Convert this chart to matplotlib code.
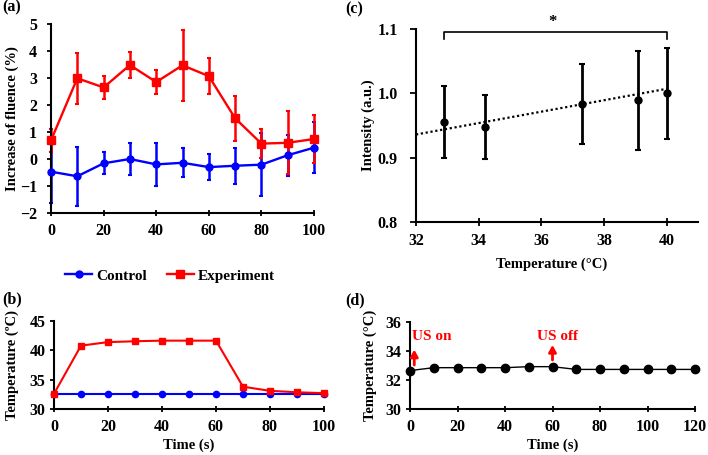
import matplotlib
matplotlib.use("Agg")
import matplotlib.pyplot as plt
import numpy as np
from matplotlib.ticker import FormatStrFormatter

plt.rcParams['font.family'] = ['Liberation Serif', 'DejaVu Serif']
plt.rcParams['font.weight'] = 'bold'
plt.rcParams['axes.labelweight'] = 'bold'

# ---------------- data ----------------
# (a) increase of fluence
time_a = [0, 10, 20, 30, 40, 50, 60, 70, 80, 90, 100]
ctrl_a = [-0.47, -0.64, -0.16, 0.0, -0.2, -0.14, -0.3, -0.25, -0.21, 0.14, 0.42]
ctrl_a_err = [1.17, 1.1, 0.41, 0.59, 0.8, 0.53, 0.48, 0.67, 1.17, 0.76, 0.95]
exp_a = [0.69, 2.99, 2.65, 3.48, 2.85, 3.47, 3.07, 1.51, 0.57, 0.6, 0.74]
exp_a_err = [0.43, 0.95, 0.43, 0.49, 0.43, 1.31, 0.67, 0.84, 0.53, 1.16, 0.9]

# (b) temperature
time_b = [0, 10, 20, 30, 40, 50, 60, 70, 80, 90, 100]
ctrl_b = [32.55] * 11
exp_b = [32.6, 40.8, 41.4, 41.55, 41.65, 41.65, 41.65, 33.8, 33.1, 32.85, 32.7]

# (c) intensity vs temperature
temp_c = [32.9, 34.2, 37.3, 39.1, 40.0]
int_c = [0.956, 0.948, 0.983, 0.989, 1.0]
int_c_err = [0.056, 0.05, 0.062, 0.077, 0.071]
trend_x = [32, 40]
trend_y = [0.936, 1.007]

# (d) temperature control
time_d = [0, 10, 20, 30, 40, 50, 60, 70, 80, 90, 100, 110, 120]
temp_d = [32.65, 32.85, 32.85, 32.85, 32.85, 32.92, 32.92, 32.73, 32.73, 32.73, 32.73, 32.73, 32.73]

W, H = 708, 455
fig = plt.figure(figsize=(W / 100, H / 100), dpi=100)


def ax_px(l, r, t, b):
    return fig.add_axes([l / W, 1 - b / H, (r - l) / W, (b - t) / H])


def style(ax, ypad):
    for s in ['top', 'right']:
        ax.spines[s].set_visible(False)
    for s in ['left', 'bottom']:
        ax.spines[s].set_linewidth(1.5)
    ax.tick_params(axis='x', direction='inout', length=5, width=1.3, labelsize=11.5, pad=5)
    ax.tick_params(axis='y', direction='out', length=3, width=1.3, labelsize=11.5, pad=ypad)
    for lab in ax.get_xticklabels() + ax.get_yticklabels():
        lab.set_fontweight('bold')


BLUE = '#0000ff'
RED = '#ff0000'

# ---------------- (a) ----------------
axa = ax_px(51, 314, 24, 213)
axa.errorbar(time_a, ctrl_a, yerr=ctrl_a_err, fmt='none', ecolor=BLUE, elinewidth=1.8,
             capsize=1.5, capthick=1.5, zorder=1, clip_on=False)
axa.errorbar(time_a, exp_a, yerr=exp_a_err, fmt='none', ecolor=RED, elinewidth=1.8,
             capsize=1.5, capthick=1.5, zorder=2, clip_on=False)
l_exp, = axa.plot(time_a, exp_a, color=RED, marker='s', ms=5.5, lw=1.7, zorder=3, clip_on=False,
                  label='Experiment')
l_ctrl, = axa.plot(time_a, ctrl_a, color=BLUE, marker='o', ms=5, lw=1.7, zorder=4, clip_on=False,
                   label='Control')
axa.set_xlim(0, 100)
axa.set_ylim(-2, 5)
axa.set_xticks([0, 20, 40, 60, 80, 100])
axa.set_yticks(range(-2, 6))
style(axa, 7)
axa.set_ylabel('Increase of fluence (%)', fontsize=10.5)
axa.yaxis.set_label_coords((19 - 51) / 263, 0.5)

fig.legend(handles=[l_ctrl, l_exp], labels=['Control', 'Experiment'], loc='center',
           bbox_to_anchor=(170 / W, 1 - 276 / H), ncol=2, frameon=False,
           prop={'family': 'Liberation Serif', 'weight': 'bold', 'size': 11},
           handlelength=1.8, columnspacing=1.3, handletextpad=0.25)

# ---------------- (b) ----------------
axb = ax_px(54, 324, 321, 409)
axb.plot(time_b, ctrl_b, color=BLUE, marker='o', ms=4.5, lw=1.5, zorder=3, clip_on=False)
axb.plot(time_b, exp_b, color=RED, marker='s', ms=5, lw=1.5, zorder=4, clip_on=False)
axb.set_xlim(0, 100)
axb.set_ylim(30, 45)
axb.set_xticks([0, 20, 40, 60, 80, 100])
axb.set_yticks([30, 35, 40, 45])
style(axb, 3)
axb.set_ylabel('Temperature (\u00baC)', fontsize=10.5)
axb.yaxis.set_label_coords((19 - 54) / 270, 0.5)
axb.set_xlabel('Time (s)', fontsize=10.5)
axb.xaxis.set_label_coords(0.5, -(439 - 409) / 88)

# ---------------- (c) ----------------
axc = ax_px(416, 698, 29, 222)
axc.plot(trend_x, trend_y, color='black', ls=(0, (1, 1.2)), lw=1.6, zorder=2)
axc.errorbar(temp_c, int_c, yerr=int_c_err, fmt='o', color='black', ms=5, elinewidth=2,
             capsize=2, capthick=1.5, zorder=3)
axc.set_xlim(32, 41)
axc.set_ylim(0.8, 1.1)
axc.set_xticks([32, 34, 36, 38, 40])
axc.set_yticks([0.8, 0.9, 1.0, 1.1])
axc.yaxis.set_major_formatter(FormatStrFormatter('%.1f'))
style(axc, 9)
axc.tick_params(axis='x', length=6)
axc.tick_params(axis='y', length=4)
axc.set_ylabel('Intensity (a.u.)', fontsize=10.5)
axc.yaxis.set_label_coords((375 - 416) / 282, 0.5)
axc.set_xlabel('Temperature (\u00b0C)', fontsize=10.5)
axc.xaxis.set_label_coords(0.48, -(258 - 222) / 193)
# significance bracket
bx0, bx1 = temp_c[0], temp_c[-1]
axc.plot([bx0, bx0, bx1, bx1], [1.085, 1.095, 1.095, 1.085], color='black', lw=1.2, clip_on=False)
axc.text((bx0 + bx1) / 2 - 0.1, 1.099, '*', ha='center', va='bottom', fontsize=12, fontweight='bold')

# ---------------- (d) ----------------
axd = ax_px(410, 695, 322, 409)
axd.plot(time_d, temp_d, color='black', marker='o', ms=6, lw=1.0, zorder=3, clip_on=False)
axd.set_xlim(0, 120)
axd.set_ylim(30, 36)
axd.set_xticks(range(0, 121, 20))
axd.set_yticks([30, 32, 34, 36])
style(axd, 3)
axd.set_ylabel('Temperature (\u00b0C)', fontsize=10.5)
axd.yaxis.set_label_coords((377 - 410) / 285, 0.5)
axd.set_xlabel('Time (s)', fontsize=10.5)
axd.xaxis.set_label_coords(0.5, -(439 - 409) / 87)
arrow_kw = dict(arrowstyle='-|>,head_length=0.4,head_width=0.22', color=RED, lw=2,
                shrinkA=0, shrinkB=0)
axd.annotate('', xy=(1.8, 34.1), xytext=(1.8, 33.03), arrowprops=arrow_kw)
axd.text(1.0, 35.0, 'US on', color=RED, fontsize=11, fontweight='bold', ha='left', va='center')
axd.annotate('', xy=(60, 34.42), xytext=(60, 33.38), arrowprops=arrow_kw)
axd.text(62, 35.0, 'US off', color=RED, fontsize=11, fontweight='bold', ha='center', va='center')

# panel labels
for lab, x, y in [('(a)', 2, 7), ('(b)', 2, 299), ('(c)', 345, 9), ('(d)', 345, 300)]:
    fig.text(x / W, 1 - y / H, lab, fontsize=11.5, fontweight='bold', ha='left', va='center')

fig.savefig('out.png', dpi=100)
